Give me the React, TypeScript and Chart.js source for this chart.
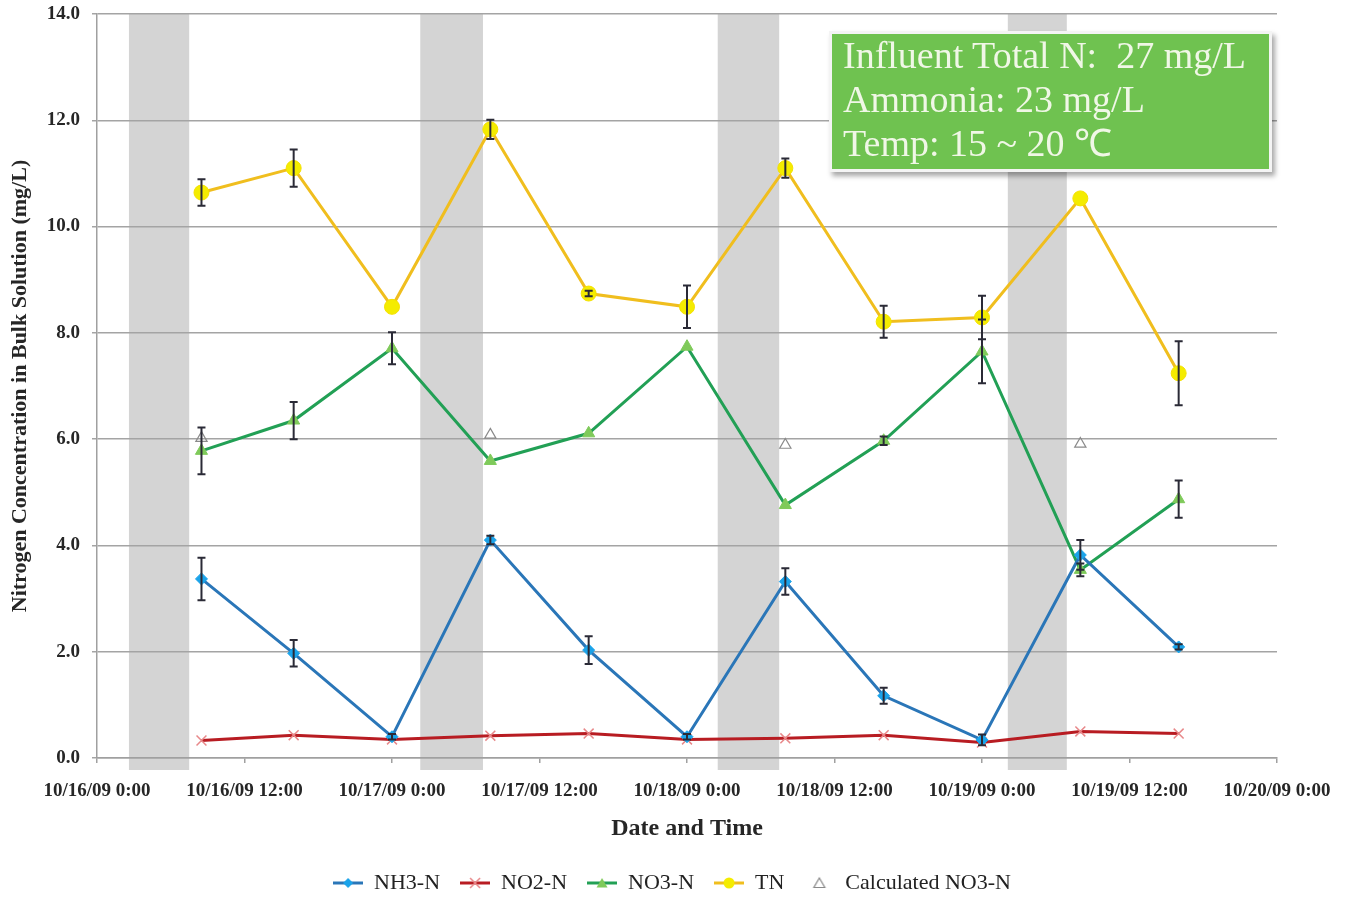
import React, { useEffect, useRef } from 'react';
import { Chart, registerables } from 'chart.js';

Chart.register(...registerables);

// ---- data ----
const tickLabels = [
  '10/16/09 0:00',
  '10/16/09 12:00',
  '10/17/09 0:00',
  '10/17/09 12:00',
  '10/18/09 0:00',
  '10/18/09 12:00',
  '10/19/09 0:00',
  '10/19/09 12:00',
  '10/20/09 0:00',
];
// hours since 10/16/09 0:00
const sampleHours = [8.5, 16, 24, 32, 40, 48, 56, 64, 72, 80, 88];

const nh3 = [3.37, 1.97, 0.4, 4.1, 2.03, 0.4, 3.32, 1.17, 0.34, 3.82, 2.09];
const nh3Err = [0.4, 0.25, 0.05, 0.08, 0.26, 0.05, 0.25, 0.15, 0.1, 0.28, 0.05];

const no2 = [0.33, 0.43, 0.35, 0.42, 0.46, 0.35, 0.37, 0.43, 0.29, 0.5, 0.46];

const no3 = [5.78, 6.35, 7.71, 5.59, 6.11, 7.74, 4.76, 5.97, 7.65, 3.54, 4.87];
const no3Err = [0.44, 0.35, 0.3, 0, 0, 0, 0, 0.08, 0.6, 0.12, 0.35];

const tn = [10.64, 11.1, 8.49, 11.83, 8.74, 8.49, 11.1, 8.21, 8.29, 10.53, 7.24];
const tnErr = [0.25, 0.35, 0, 0.18, 0.05, 0.4, 0.18, 0.3, 0.41, 0, 0.6];

const calcHours = [8.5, 32, 56, 80];
const calcNo3 = [6.02, 6.08, 5.89, 5.91];

// dark (shaded) periods, hours
const darkStart = [2.6, 26.3, 50.5, 74.1];
const darkEnd = [7.5, 31.4, 55.5, 78.9];

const seriesNames = ['NH3-N', 'NO2-N', 'NO3-N', 'TN', 'Calculated NO3-N'];

const FONT = "'Liberation Serif', 'Times New Roman', serif";

const toXY = (xs: number[], ys: number[]) => ys.map((y, i) => ({ x: xs[i], y }));

function makeIcon(kind: string, line: string | null, fill: string, stroke: string) {
  const c = document.createElement('canvas');
  c.width = 30;
  c.height = 16;
  const g = c.getContext('2d')!;
  const cx = 15;
  const cy = 8;
  if (line) {
    g.strokeStyle = line;
    g.lineWidth = 3;
    g.beginPath();
    g.moveTo(0, cy);
    g.lineTo(30, cy);
    g.stroke();
  }
  g.fillStyle = fill;
  g.strokeStyle = stroke;
  g.lineWidth = 1.5;
  g.beginPath();
  if (kind === 'diamond') {
    g.moveTo(cx, cy - 5);
    g.lineTo(cx + 5, cy);
    g.lineTo(cx, cy + 5);
    g.lineTo(cx - 5, cy);
    g.closePath();
    g.fill();
  } else if (kind === 'cross') {
    g.moveTo(cx - 5, cy - 5);
    g.lineTo(cx + 5, cy + 5);
    g.moveTo(cx - 5, cy + 5);
    g.lineTo(cx + 5, cy - 5);
    g.stroke();
  } else if (kind === 'triangle') {
    g.moveTo(cx, cy - 5);
    g.lineTo(cx + 5.5, cy + 4.5);
    g.lineTo(cx - 5.5, cy + 4.5);
    g.closePath();
    g.fill();
  } else if (kind === 'circle') {
    g.arc(cx, cy, 5.5, 0, Math.PI * 2);
    g.fill();
  } else if (kind === 'hollow') {
    g.lineWidth = 1.2;
    g.moveTo(cx, cy - 5);
    g.lineTo(cx + 5.5, cy + 4.5);
    g.lineTo(cx - 5.5, cy + 4.5);
    g.closePath();
    g.stroke();
  }
  return c;
}

const bandsPlugin = {
  id: 'darkBands',
  beforeDraw(chart: any) {
    const { ctx, chartArea, scales } = chart;
    const xs = scales.x;
    ctx.save();
    ctx.fillStyle = '#d4d4d4';
    for (let i = 0; i < darkStart.length; i++) {
      const x1 = xs.getPixelForValue(darkStart[i]);
      const x2 = xs.getPixelForValue(darkEnd[i]);
      ctx.fillRect(x1, chartArea.top, x2 - x1, chartArea.bottom - chartArea.top + 12);
    }
    ctx.restore();
  },
};

const errorBarsPlugin = {
  id: 'errorBars',
  afterDatasetsDraw(chart: any) {
    const { ctx, scales } = chart;
    const xs = scales.x;
    const ys = scales.y;
    const sets: [number[], number[]][] = [
      [nh3, nh3Err],
      [no3, no3Err],
      [tn, tnErr],
    ];
    ctx.save();
    ctx.strokeStyle = '#2a2a36';
    ctx.lineWidth = 2;
    sets.forEach(([vals, errs]) => {
      vals.forEach((v, i) => {
        const e = errs[i];
        if (!e) return;
        const x = xs.getPixelForValue(sampleHours[i]);
        const yt = ys.getPixelForValue(v + e);
        const yb = ys.getPixelForValue(v - e);
        ctx.beginPath();
        ctx.moveTo(x, yt);
        ctx.lineTo(x, yb);
        ctx.moveTo(x - 4, yt);
        ctx.lineTo(x + 4, yt);
        ctx.moveTo(x - 4, yb);
        ctx.lineTo(x + 4, yb);
        ctx.stroke();
      });
    });
    ctx.restore();
  },
};

export default function App() {
  const ref = useRef<HTMLCanvasElement>(null);

  useEffect(() => {
    const canvas = ref.current;
    if (!canvas) return;
    const icons = [
      makeIcon('diamond', '#2a76b8', '#1aa3ea', '#1aa3ea'),
      makeIcon('cross', '#b81c22', '#e8888a', '#e8888a'),
      makeIcon('triangle', '#22a055', '#7fca5a', '#7fca5a'),
      makeIcon('circle', '#f0be1e', '#f4ec00', '#f4ec00'),
      makeIcon('hollow', null, '#ffffff', '#8a8a8a'),
    ];

    const chart = new Chart(canvas, {
      type: 'line',
      data: {
        datasets: [
          {
            label: seriesNames[0],
            data: toXY(sampleHours, nh3),
            borderColor: '#2a76b8',
            borderWidth: 3,
            pointStyle: 'rectRot',
            pointRadius: 6,
            pointBackgroundColor: '#1aa3ea',
            pointBorderColor: '#1aa3ea',
            pointBorderWidth: 1,
            tension: 0,
          },
          {
            label: seriesNames[1],
            data: toXY(sampleHours, no2),
            borderColor: '#b81c22',
            borderWidth: 3,
            pointStyle: 'crossRot',
            pointRadius: 7,
            pointBorderColor: '#e8888a',
            pointBackgroundColor: '#e8888a',
            pointBorderWidth: 1.5,
            tension: 0,
          },
          {
            label: seriesNames[2],
            data: toXY(sampleHours, no3),
            borderColor: '#22a055',
            borderWidth: 3,
            pointStyle: 'triangle',
            pointRadius: 7,
            pointBackgroundColor: '#7fca5a',
            pointBorderColor: '#7fca5a',
            pointBorderWidth: 1,
            tension: 0,
          },
          {
            label: seriesNames[3],
            data: toXY(sampleHours, tn),
            borderColor: '#f0be1e',
            borderWidth: 3,
            pointStyle: 'circle',
            pointRadius: 7.5,
            pointBackgroundColor: '#f4ec00',
            pointBorderColor: '#f4e000',
            pointBorderWidth: 1,
            tension: 0,
          },
          {
            label: seriesNames[4],
            data: toXY(calcHours, calcNo3),
            showLine: false,
            borderColor: '#8a8a8a',
            pointStyle: 'triangle',
            pointRadius: 6.5,
            pointBackgroundColor: 'rgba(255,255,255,0)',
            pointBorderColor: '#8a8a8a',
            pointBorderWidth: 1.2,
          },
        ],
      },
      options: {
        responsive: false,
        animation: false,
        events: [],
        layout: { padding: { top: 14, left: 0, right: 6, bottom: -5 } },
        scales: {
          x: {
            type: 'linear',
            min: 0,
            max: 96,
            afterFit: (s: any) => {
              s.height = 94;
            },
            ticks: {
              stepSize: 12,
              autoSkip: false,
              maxRotation: 0,
              padding: 17,
              color: '#262626',
              font: { family: FONT, size: 19, weight: 'bold' },
              callback: (v: any) => tickLabels[Math.round(Number(v) / 12)] ?? '',
            },
            grid: {
              drawOnChartArea: false,
              drawTicks: true,
              tickLength: 5,
              color: '#a0a0a0',
              lineWidth: 1.5,
            },
            border: { color: '#a0a0a0', width: 1.5 },
            title: {
              display: true,
              text: 'Date and Time',
              color: '#262626',
              font: { family: FONT, size: 24, weight: 'bold' },
              padding: { top: 0, bottom: 9 },
            },
          },
          y: {
            type: 'linear',
            position: 'left',
            min: 0,
            max: 14,
            afterFit: (s: any) => {
              s.width = 97;
              s.paddingTop = 0;
              s.paddingBottom = 0;
            },
            ticks: {
              stepSize: 2,
              padding: 12,
              color: '#262626',
              font: { family: FONT, size: 19, weight: 'bold' },
              callback: (v: any) => Number(v).toFixed(1),
            },
            grid: {
              color: '#a4a4a4',
              lineWidth: 1.5,
              tickLength: 5,
            },
            border: { color: '#a0a0a0', width: 1.5 },
            title: {
              display: true,
              text: 'Nitrogen Concentration in Bulk Solution (mg/L)',
              color: '#262626',
              font: { family: FONT, size: 22, weight: 'bold' },
              padding: { top: 7, bottom: 0 },
            },
          },
          yRight: {
            type: 'linear',
            position: 'right',
            display: true,
            afterFit: (s: any) => {
              s.width = 67;
              s.paddingTop = 0;
              s.paddingBottom = 0;
            },
            ticks: { display: false },
            grid: { display: false, drawTicks: false },
            border: { display: false },
          },
        },
        plugins: {
          legend: {
            position: 'bottom',
            labels: {
              usePointStyle: true,
              pointStyleWidth: 30,
              padding: 20,
              color: '#222222',
              font: { family: FONT, size: 22 },
              generateLabels: (ch: any) => {
                const items = (Chart.defaults.plugins.legend.labels as any).generateLabels(ch);
                return items.map((it: any, i: number) => ({ ...it, pointStyle: icons[i] }));
              },
            },
          },
          tooltip: { enabled: false },
        },
      } as any,
      plugins: [bandsPlugin, errorBarsPlugin],
    });
    return () => chart.destroy();
  }, []);

  return (
    <div
      style={{
        position: 'absolute',
        left: 0,
        top: 0,
        width: 1350,
        height: 899,
        background: '#ffffff',
        overflow: 'hidden',
      }}
    >
      <canvas ref={ref} width={1350} height={899} style={{ display: 'block' }} />
      <div
        style={{
          position: 'absolute',
          left: 829,
          top: 31,
          width: 443,
          height: 141,
          boxSizing: 'border-box',
          background: '#6fc250',
          border: '3px solid #f4f4f4',
          boxShadow: '3px 4px 5px rgba(0,0,0,0.35)',
          color: '#f0f7e6',
          fontFamily: FONT,
          fontSize: 38,
          lineHeight: '44px',
          whiteSpace: 'pre',
          padding: '0 0 0 11px',
        }}
      >
        <div style={{ position: 'relative', top: -1 }}>
          <div>{'Influent Total N:  27 mg/L'}</div>
          <div>{'Ammonia: 23 mg/L'}</div>
          <div>{'Temp: 15 ~ 20 \u2103'}</div>
        </div>
      </div>
    </div>
  );
}
